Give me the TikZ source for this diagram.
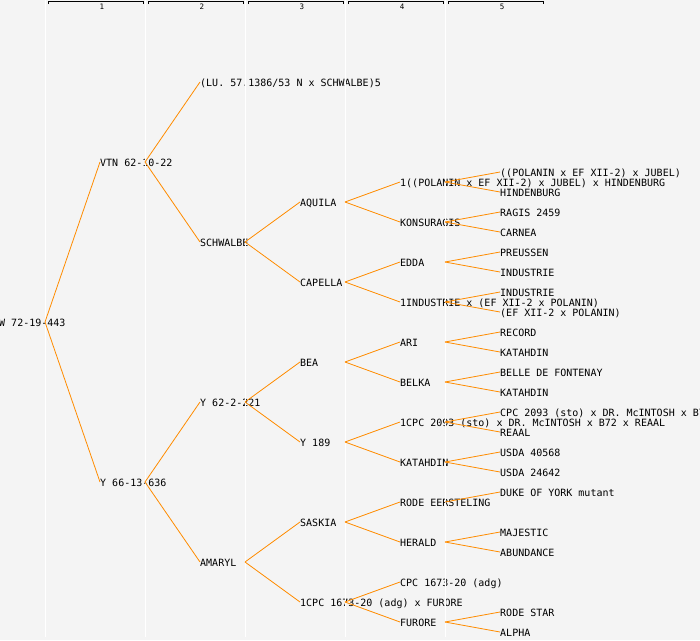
\documentclass[tikz,border=0pt]{standalone}
\usepackage{fontspec}
\setmonofont{DejaVu Sans Mono}
\usepackage{tikz}
\usetikzlibrary{positioning}
\definecolor{fond}{HTML}{F4F4F4}
\definecolor{branche}{HTML}{FF8C00}
\tikzstyle{nom} = [anchor=west,inner sep=0pt,text height=8pt,text depth=0pt,font=\ttfamily\fontsize{10}{10}\selectfont]
\tikzstyle{lien} = [draw=branche,line width=0.8pt]
\tikzstyle{colonne} = [draw=white,line width=1pt]
\tikzstyle{crochet} = [draw=black,line width=0.9pt]
\tikzstyle{gen} = [inner sep=0pt,font=\ttfamily\fontsize{7.5}{7.5}\selectfont]

\begin{document}
\begin{tikzpicture}[x=1pt,y=-1pt]
%% Le fond
	\fill[fond] (0,0) rectangle (700,640);
	\useasboundingbox (0,0) rectangle (700,640);
	\clip (0,0) rectangle (700,640);

%% Generation 0 et 1
	\node[nom] (W) at (-1,322) {W 72-19-443};
	\coordinate (W-f) at (45,322);

	\node[nom] (VTN) at (100,162) {VTN 62-10-22};
	\coordinate (VTN-f) at (145,162);
	\node[nom] (Y66) at (100,482) {Y 66-13-636};
	\coordinate (Y66-f) at (145,482);

%% Generation 2
	\node[nom] (LU) at (200,82) {(LU. 57.1386/53 N x SCHWALBE)5};
	\node[nom] (SCHW) at (200,242) {SCHWALBE};
	\coordinate (SCHW-f) at (245,242);
	\node[nom] (Y62) at (200,402) {Y 62-2-221};
	\coordinate (Y62-f) at (245,402);
	\node[nom] (AMA) at (200,562) {AMARYL};
	\coordinate (AMA-f) at (245,562);

%% Generation 3
	\node[nom] (AQU) at (300,202) {AQUILA};
	\coordinate (AQU-f) at (345,202);
	\node[nom] (CAP) at (300,282) {CAPELLA};
	\coordinate (CAP-f) at (345,282);
	\node[nom] (BEA) at (300,362) {BEA};
	\coordinate (BEA-f) at (345,362);
	\node[nom] (Y189) at (300,442) {Y 189};
	\coordinate (Y189-f) at (345,442);
	\node[nom] (SAS) at (300,522) {SASKIA};
	\coordinate (SAS-f) at (345,522);
	\node[nom] (CPCF) at (300,602) {1CPC 1673-20 (adg) x FURORE};
	\coordinate (CPCF-f) at (345,602);

%% Generation 4
	\node[nom] (POLJ) at (400,182) {1((POLANIN x EF XII-2) x JUBEL) x HINDENBURG};
	\coordinate (POLJ-f) at (445,182);
	\node[nom] (KONS) at (400,222) {KONSURAGIS};
	\coordinate (KONS-f) at (445,222);
	\node[nom] (EDDA) at (400,262) {EDDA};
	\coordinate (EDDA-f) at (445,262);
	\node[nom] (INDP) at (400,302) {1INDUSTRIE x (EF XII-2 x POLANIN)};
	\coordinate (INDP-f) at (445,302);
	\node[nom] (ARI) at (400,342) {ARI};
	\coordinate (ARI-f) at (445,342);
	\node[nom] (BELKA) at (400,382) {BELKA};
	\coordinate (BELKA-f) at (445,382);
	\node[nom] (CPCM) at (400,422) {1CPC 2093 (sto) x DR. McINTOSH x B72 x REAAL};
	\coordinate (CPCM-f) at (445,422);
	\node[nom] (KAT) at (400,462) {KATAHDIN};
	\coordinate (KAT-f) at (445,462);
	\node[nom] (RODE) at (400,502) {RODE EERSTELING};
	\coordinate (RODE-f) at (445,502);
	\node[nom] (HER) at (400,542) {HERALD};
	\coordinate (HER-f) at (445,542);
	\node[nom] (CPCA) at (400,582) {CPC 1673-20 (adg)};
	\node[nom] (FUR) at (400,622) {FURORE};
	\coordinate (FUR-f) at (445,622);

%% Generation 5
	\node[nom] (POLJa) at (500,172) {((POLANIN x EF XII-2) x JUBEL)};
	\node[nom] (HIND) at (500,192) {HINDENBURG};
	\node[nom] (RAG) at (500,212) {RAGIS 2459};
	\node[nom] (CARN) at (500,232) {CARNEA};
	\node[nom] (PREU) at (500,252) {PREUSSEN};
	\node[nom] (INDa) at (500,272) {INDUSTRIE};
	\node[nom] (INDb) at (500,292) {INDUSTRIE};
	\node[nom] (EFP) at (500,312) {(EF XII-2 x POLANIN)};
	\node[nom] (REC) at (500,332) {RECORD};
	\node[nom] (KATa) at (500,352) {KATAHDIN};
	\node[nom] (BELLE) at (500,372) {BELLE DE FONTENAY};
	\node[nom] (KATb) at (500,392) {KATAHDIN};
	\node[nom] (CPCb) at (500,412) {CPC 2093 (sto) x DR. McINTOSH x B72};
	\node[nom] (REAAL) at (500,432) {REAAL};
	\node[nom] (USDAa) at (500,452) {USDA 40568};
	\node[nom] (USDAb) at (500,472) {USDA 24642};
	\node[nom] (DUKE) at (500,492) {DUKE OF YORK mutant};
	\node[nom] (MAJ) at (500,532) {MAJESTIC};
	\node[nom] (ABUN) at (500,552) {ABUNDANCE};
	\node[nom] (RSTAR) at (500,612) {RODE STAR};
	\node[nom] (ALPHA) at (500,632) {ALPHA};

%% Les colonnes blanches
	\draw[colonne] (45,0) -- (45,637);
	\draw[colonne] (145,0) -- (145,637);
	\draw[colonne] (245,0) -- (245,637);
	\draw[colonne] (345,0) -- (345,637);
	\draw[colonne] (445,0) -- (445,637);

%% Les branches
	\draw[lien] (W-f) -- (VTN.west);
	\draw[lien] (W-f) -- (Y66.west);

	\draw[lien] (VTN-f) -- (LU.west);
	\draw[lien] (VTN-f) -- (SCHW.west);
	\draw[lien] (Y66-f) -- (Y62.west);
	\draw[lien] (Y66-f) -- (AMA.west);

	\draw[lien] (SCHW-f) -- (AQU.west);
	\draw[lien] (SCHW-f) -- (CAP.west);
	\draw[lien] (Y62-f) -- (BEA.west);
	\draw[lien] (Y62-f) -- (Y189.west);
	\draw[lien] (AMA-f) -- (SAS.west);
	\draw[lien] (AMA-f) -- (CPCF.west);

	\draw[lien] (AQU-f) -- (POLJ.west);
	\draw[lien] (AQU-f) -- (KONS.west);
	\draw[lien] (CAP-f) -- (EDDA.west);
	\draw[lien] (CAP-f) -- (INDP.west);
	\draw[lien] (BEA-f) -- (ARI.west);
	\draw[lien] (BEA-f) -- (BELKA.west);
	\draw[lien] (Y189-f) -- (CPCM.west);
	\draw[lien] (Y189-f) -- (KAT.west);
	\draw[lien] (SAS-f) -- (RODE.west);
	\draw[lien] (SAS-f) -- (HER.west);
	\draw[lien] (CPCF-f) -- (CPCA.west);
	\draw[lien] (CPCF-f) -- (FUR.west);

	\draw[lien] (POLJ-f) -- (POLJa.west);
	\draw[lien] (POLJ-f) -- (HIND.west);
	\draw[lien] (KONS-f) -- (RAG.west);
	\draw[lien] (KONS-f) -- (CARN.west);
	\draw[lien] (EDDA-f) -- (PREU.west);
	\draw[lien] (EDDA-f) -- (INDa.west);
	\draw[lien] (INDP-f) -- (INDb.west);
	\draw[lien] (INDP-f) -- (EFP.west);
	\draw[lien] (ARI-f) -- (REC.west);
	\draw[lien] (ARI-f) -- (KATa.west);
	\draw[lien] (BELKA-f) -- (BELLE.west);
	\draw[lien] (BELKA-f) -- (KATb.west);
	\draw[lien] (CPCM-f) -- (CPCb.west);
	\draw[lien] (CPCM-f) -- (REAAL.west);
	\draw[lien] (KAT-f) -- (USDAa.west);
	\draw[lien] (KAT-f) -- (USDAb.west);
	\draw[lien] (RODE-f) -- (DUKE.west);
	\draw[lien] (HER-f) -- (MAJ.west);
	\draw[lien] (HER-f) -- (ABUN.west);
	\draw[lien] (FUR-f) -- (RSTAR.west);
	\draw[lien] (FUR-f) -- (ALPHA.west);

%% Les crochets des generations
	\draw[crochet] (48,4) -- (48,1.5) -- (143,1.5) -- (143,4);
	\node[gen] (g1) at (102,6.5) {1};
	\draw[crochet] (148,4) -- (148,1.5) -- (243,1.5) -- (243,4);
	\node[gen] (g2) at (202,6.5) {2};
	\draw[crochet] (248,4) -- (248,1.5) -- (343,1.5) -- (343,4);
	\node[gen] (g3) at (302,6.5) {3};
	\draw[crochet] (348,4) -- (348,1.5) -- (443,1.5) -- (443,4);
	\node[gen] (g4) at (402,6.5) {4};
	\draw[crochet] (448,4) -- (448,1.5) -- (543,1.5) -- (543,4);
	\node[gen] (g5) at (502,6.5) {5};

\end{tikzpicture}
\end{document}
